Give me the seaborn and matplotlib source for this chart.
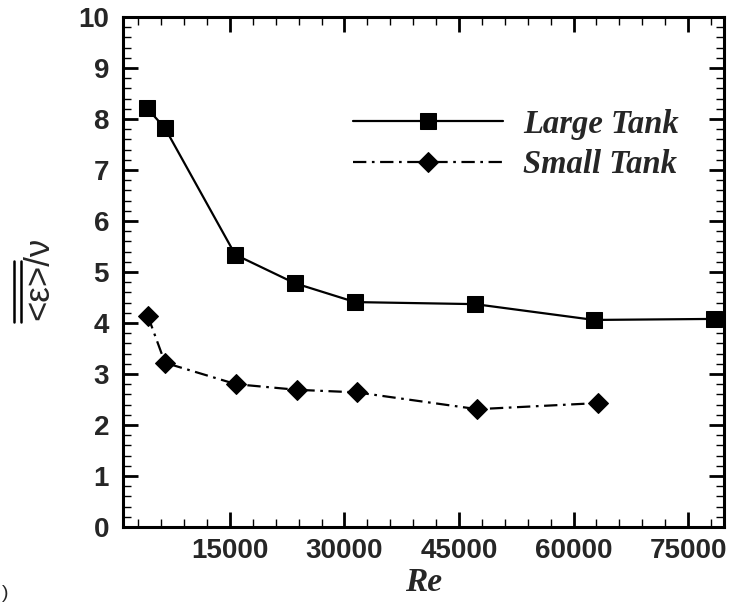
import matplotlib
matplotlib.use("Agg")
import matplotlib.pyplot as plt
import seaborn as sns
import pandas as pd
from matplotlib.ticker import MultipleLocator, FixedLocator
from matplotlib.lines import Line2D
from matplotlib.font_manager import FontProperties

# ---- data ----
re_large = [4100, 6500, 15700, 23500, 31400, 47100, 62700, 78400]
eps_large = [8.22, 7.82, 5.34, 4.78, 4.41, 4.37, 4.06, 4.08]
re_small = [4250, 6500, 15800, 23800, 31600, 47400, 63200]
eps_small = [4.14, 3.22, 2.80, 2.69, 2.64, 2.31, 2.43]
series_names = ["Large Tank", "Small Tank"]
x_ticks = [15000, 30000, 45000, 60000, 75000]
y_ticks = list(range(0, 11))

sns.set_style("ticks")
plt.rcParams["font.family"] = ["Liberation Sans", "DejaVu Sans"]

W, H = 734, 603
fig = plt.figure(figsize=(W / 100, H / 100), dpi=100)
ax = fig.add_axes([123 / W, 76 / H, 601 / W, 510 / H])

df_large = pd.DataFrame({"Re": re_large, "eps": eps_large})
df_small = pd.DataFrame({"Re": re_small, "eps": eps_small})

sns.lineplot(data=df_large, x="Re", y="eps", ax=ax, color="black", lw=1.6,
             marker="s", markersize=11.5, markeredgecolor="black",
             markerfacecolor="black", label=series_names[0], linestyle="-")
sns.lineplot(data=df_small, x="Re", y="eps", ax=ax, color="black", lw=1.6,
             marker="D", markersize=10.5, markeredgecolor="black",
             markerfacecolor="black", label=series_names[1],
             linestyle=(0, (6, 2.5, 1.2, 2.5)))

ax.set_xlim(1000, 79700)
ax.set_ylim(0, 10)
ax.xaxis.set_major_locator(FixedLocator(x_ticks))
ax.xaxis.set_minor_locator(MultipleLocator(3000))
ax.yaxis.set_major_locator(FixedLocator(y_ticks))
ax.yaxis.set_minor_locator(MultipleLocator(0.2))
ax.set_xticklabels([str(v) for v in x_ticks])
ax.set_yticklabels([str(v) for v in y_ticks])

for s in ax.spines.values():
    s.set_visible(True)
    s.set_linewidth(2.2)
    s.set_color("black")

ax.tick_params(which="major", direction="in", length=11, width=2.0,
               top=True, right=True, labelsize=20, pad=8, color="black")
ax.tick_params(which="minor", direction="in", length=5.5, width=1.0,
               top=True, right=True, color="black")
for lab in ax.get_xticklabels() + ax.get_yticklabels():
    lab.set_fontweight("bold")
ax.tick_params(axis="y", pad=10)

ax.set_xlabel("Re", family=["Liberation Serif"], fontweight="bold",
              style="italic", fontsize=24, labelpad=2)
ax.set_ylabel("")

leg = ax.legend(loc="center left", bbox_to_anchor=(0.383, 0.75),
                frameon=False, borderpad=0, borderaxespad=0,
                handlelength=4.6, handletextpad=0.6, labelspacing=0.3,
                prop={"family": "Liberation Serif", "weight": "bold",
                      "style": "italic", "size": 23.5})

# y label: <ε>/ν with a double overline over <ε>
ylab_size = 25
fam = ["Liberation Sans", "DejaVu Sans"]
bottom_px = 320
fig.text(39 / W, 1 - bottom_px / H, "<ε>/ν", rotation=90, ha="center",
         va="bottom", fontsize=ylab_size, family=fam)
fig.canvas.draw()
renderer = fig.canvas.get_renderer()
fp = FontProperties(family=fam, size=ylab_size)
wpt, _, _ = renderer.get_text_width_height_descent("<ε>", fp, ismath=False)
y0 = H - bottom_px
for xp in (14, 20.5):
    fig.add_artist(Line2D([xp / W, xp / W], [(y0 - 2) / H, (y0 + wpt + 3) / H],
                          transform=fig.transFigure, color="black", lw=1.8))

fig.text(2 / W, 1 - 593 / H, ")", fontsize=14, va="center", ha="left")

fig.savefig("out.png", dpi=100)
